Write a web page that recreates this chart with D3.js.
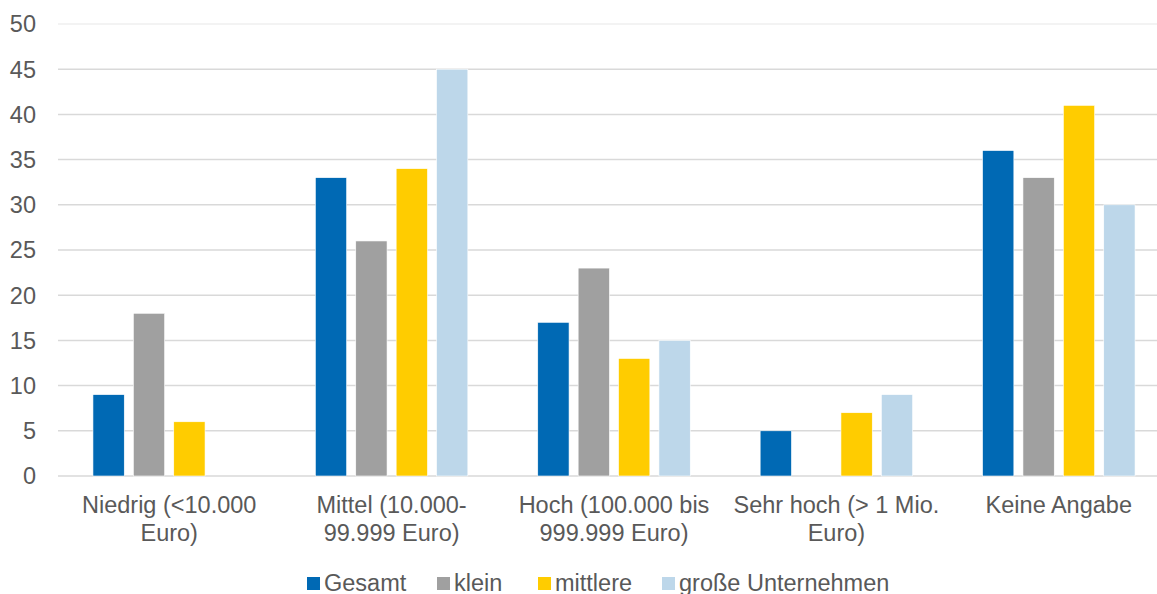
<!DOCTYPE html>
<html><head><meta charset="utf-8">
<script src="https://cdn.jsdelivr.net/npm/d3@7"></script>
<style>body{margin:0;background:#fff}svg{display:block}text{font-family:"Liberation Sans",Arial,sans-serif;fill:#595959}</style>
</head><body><svg id="c" width="1157" height="594"></svg>
<script>
const categories = [["Niedrig (<10.000","Euro)"],["Mittel (10.000-","99.999 Euro)"],["Hoch (100.000 bis","999.999 Euro)"],["Sehr hoch (> 1 Mio.","Euro)"],["Keine Angabe"]];
const seriesNames = ["Gesamt","klein","mittlere","große Unternehmen"];
const gesamt = [9,33,17,5,36];
const klein = [18,26,23,0,33];
const mittlere = [6,34,13,7,41];
const grosse = [0,45,15,9,30];
const yTicks = [0,5,10,15,20,25,30,35,40,45,50];
const colors = ["#0069B4","#A0A0A0","#FFCC00","#BDD7EA"];
const series = [gesamt,klein,mittlere,grosse];

const svg = d3.select("#c");
const mL=58,mR=1170,mT=24,mB=476,gridR=1157;
const x0 = d3.scaleBand().domain(d3.range(categories.length)).range([mL,mR]).paddingInner(0).paddingOuter(0);
const groupW = 152.5;
const x1 = d3.scaleBand().domain(d3.range(seriesNames.length)).range([0,groupW]).paddingInner(0.225);
const y = d3.scaleLinear().domain([0,50]).range([mB,mT]);

// grid
svg.append("g").selectAll("line").data(yTicks).join("line")
  .attr("x1",mL).attr("x2",gridR).attr("y1",d=>y(d)).attr("y2",d=>y(d))
  .attr("stroke",d=>d===50?"#efefef":"#d9d9d9").attr("stroke-width",1.5);
svg.append("g").selectAll("text").data(yTicks).join("text")
  .attr("x",36).attr("y",d=>y(d)).attr("dy","0.36em").attr("text-anchor","end")
  .attr("font-size",23.5).text(d=>d);

// bars
const off = (x0.bandwidth()-groupW)/2;
series.forEach((s,si)=>{
  svg.append("g").selectAll("rect").data(s).join("rect")
    .attr("x",(d,i)=>x0(i)+off+x1(si)).attr("width",x1.bandwidth())
    .attr("y",d=>y(d)).attr("height",d=>y(0)-y(d))
    .attr("fill",colors[si]).attr("stroke","#ffffff").attr("stroke-width",0.6);
});

// category labels
const cl = svg.append("g");
categories.forEach((c,i)=>{
  const t = cl.append("text").attr("text-anchor","middle").attr("font-size",23.5);
  c.forEach((line,j)=>t.append("tspan").attr("x",x0(i)+x0.bandwidth()/2).attr("y",513+j*28).text(line));
});

// legend
const legX=[307,437,538,662];
const lg = svg.append("g");
seriesNames.forEach((n,i)=>{
  lg.append("rect").attr("x",legX[i]).attr("y",577).attr("width",13).attr("height",13).attr("fill",colors[i]);
  lg.append("text").attr("x",legX[i]+17).attr("y",591).attr("font-size",23.5).text(n);
});
</script></body></html>
